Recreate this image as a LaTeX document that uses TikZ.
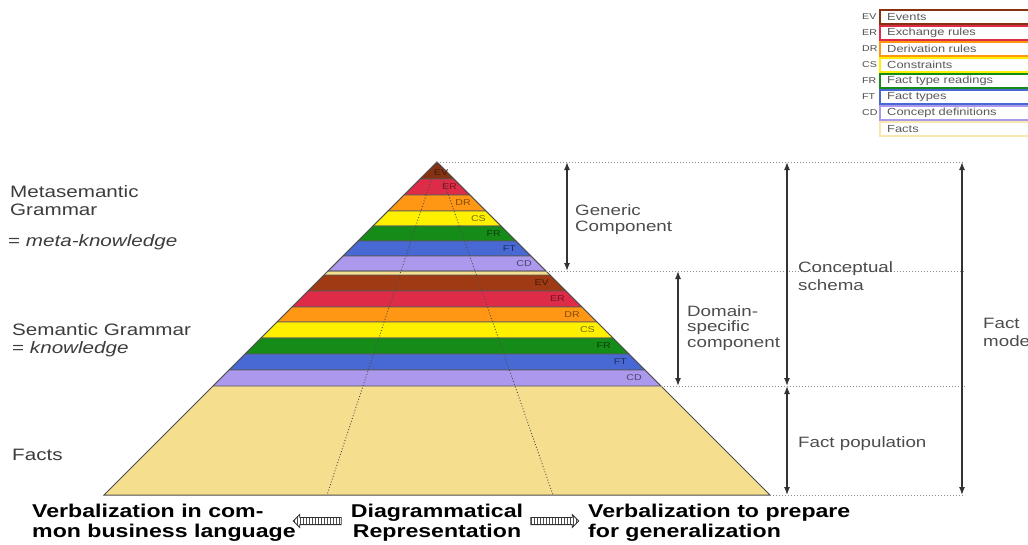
\documentclass[tikz,border=0pt]{standalone}
\usepackage{fontspec}
\setmainfont{Liberation Sans}[FakeStretch=1.25]
\setsansfont{Liberation Sans}[FakeStretch=1.25]
\usepackage{tikz}
\usetikzlibrary{arrows.meta,positioning,shapes.arrows,patterns}

\definecolor{evcol}{RGB}{160,58,20}
\definecolor{ercol}{RGB}{222,44,72}
\definecolor{drcol}{RGB}{255,150,20}
\definecolor{cscol}{RGB}{255,240,0}
\definecolor{frcol}{RGB}{22,140,24}
\definecolor{ftcol}{RGB}{72,104,212}
\definecolor{cdcol}{RGB}{172,152,236}
\definecolor{facol}{RGB}{245,222,142}
\definecolor{inkgray}{RGB}{60,60,60}

\begin{document}
\begin{tikzpicture}[
    x=1pt, y=-1pt,
    >=Latex,
    band/.style={draw=black!65, line width=0.6pt},
    bandlabel/.style={
        font=\fontsize{8.5}{9}\selectfont,
        inner sep=0pt,
        anchor=east
    },
    sidetext/.style={
        font=\fontsize{16.5}{18}\selectfont,
        text=inkgray,
        align=left,
        anchor=base west,
        inner sep=0pt
    },
    dimtext/.style={
        font=\fontsize{15}{15.5}\selectfont,
        text=black!70,
        align=left,
        anchor=base west,
        inner sep=0pt
    },
    bottomtext/.style={
        font=\bfseries\fontsize{18.5}{19.5}\selectfont,
        inner sep=0pt,
        anchor=base west
    },
    legbox/.style={line width=1.8pt, fill=white},
    legtext/.style={
        font=\fontsize{10.3}{11}\selectfont,
        text=black!65,
        anchor=west,
        inner sep=0pt
    },
    legabbr/.style={
        font=\fontsize{8.5}{9}\selectfont,
        text=black!70,
        anchor=west,
        inner sep=0pt
    },
    guide/.style={black!45, dotted, line width=1pt},
    inner/.style={black!70, dotted, line width=0.9pt},
    dimarrow/.style={
        black!80,
        line width=1.3pt,
        {Latex[length=8pt,width=6pt]}-{Latex[length=8pt,width=6pt]}
    },
    flatarrow/.style={
        single arrow,
        draw=black!80,
        line width=0.8pt,
        inner sep=3.2pt,
        single arrow head extend=3pt,
        minimum height=48pt,
        pattern=vertical lines,
        pattern color=black!70
    }
]
\useasboundingbox (0,0) rectangle (1028,544);

% pyramid body
\coordinate (apex) at (437,162);
\coordinate (baseL) at (104,495);
\coordinate (baseR) at (770,495);
\fill[facol] (apex) -- (baseR) -- (baseL) -- cycle;

% generic component bands
\fill[band, fill=evcol!85!black] (apex) -- (454,179) -- (420,179) -- cycle;
\fill[band, fill=ercol] (420,179) -- (454,179) -- (470,195) -- (404,195) -- cycle;
\fill[band, fill=drcol] (404,195) -- (470,195) -- (486,211) -- (388,211) -- cycle;
\fill[band, fill=cscol] (388,211) -- (486,211) -- (501,226) -- (373,226) -- cycle;
\fill[band, fill=frcol] (373,226) -- (501,226) -- (516,241) -- (358,241) -- cycle;
\fill[band, fill=ftcol] (358,241) -- (516,241) -- (531,256) -- (343,256) -- cycle;
\fill[band, fill=cdcol] (343,256) -- (531,256) -- (546,271) -- (328,271) -- cycle;
\draw[band] (apex) -- (454,179) -- (470,195) -- (486,211) -- (501,226) -- (516,241) -- (531,256) -- (546,271) -- (328,271) -- (343,256) -- (358,241) -- (373,226) -- (388,211) -- (404,195) -- (420,179) -- cycle;

% domain-specific bands
\fill[band, fill=evcol] (324,275) -- (550,275) -- (566,291) -- (308,291) -- cycle;
\fill[band, fill=ercol] (308,291) -- (566,291) -- (582,307) -- (292,307) -- cycle;
\fill[band, fill=drcol] (292,307) -- (582,307) -- (597,322) -- (277,322) -- cycle;
\fill[band, fill=cscol] (277,322) -- (597,322) -- (613,338) -- (261,338) -- cycle;
\fill[band, fill=frcol] (261,338) -- (613,338) -- (629,354) -- (245,354) -- cycle;
\fill[band, fill=ftcol] (245,354) -- (629,354) -- (645,370) -- (229,370) -- cycle;
\fill[band, fill=cdcol] (229,370) -- (645,370) -- (661,386) -- (213,386) -- cycle;

% outline of the whole pyramid
\draw[black!70, line width=1pt] (apex) -- (baseR) -- (baseL) -- cycle;

% dotted split lines inside the pyramid
\coordinate (splitL) at (327,495);
\coordinate (splitR) at (553,495);
\draw[inner] (apex) -- (splitL);
\draw[inner] (apex) -- (splitR);

% band labels
\node[bandlabel, anchor=center, text=evcol!45!black] (ev1) at (441,173) {EV};
\node[bandlabel, text=ercol!50!black] (er1) at (457,187) {ER};
\node[bandlabel, text=drcol!50!black] (dr1) at (471,203) {DR};
\node[bandlabel, text=cscol!45!black] (cs1) at (486,218.5) {CS};
\node[bandlabel, text=frcol!45!black] (fr1) at (501,233.5) {FR};
\node[bandlabel, text=ftcol!45!black] (ft1) at (516,248.5) {FT};
\node[bandlabel, text=cdcol!45!black] (cd1) at (532,263.5) {CD};

\node[bandlabel, text=evcol!45!black] (ev2) at (549,283) {EV};
\node[bandlabel, text=ercol!50!black] (er2) at (565,299) {ER};
\node[bandlabel, text=drcol!50!black] (dr2) at (580,314.5) {DR};
\node[bandlabel, text=cscol!45!black] (cs2) at (595,330) {CS};
\node[bandlabel, text=frcol!45!black] (fr2) at (611,346) {FR};
\node[bandlabel, text=ftcol!45!black] (ft2) at (627,362) {FT};
\node[bandlabel, text=cdcol!45!black] (cd2) at (642,378) {CD};

% level guide lines
\coordinate (lvlA) at (965,162);
\coordinate (cutB) at (546,271);
\coordinate (lvlB) at (965,271);
\coordinate (cutC) at (661,386);
\coordinate (lvlC) at (965,386);
\coordinate (lvlD) at (965,495);
\draw[guide] (apex) -- (lvlA);
\draw[guide] (cutB) -- (lvlB);
\draw[guide] (cutC) -- (lvlC);
\draw[guide] (baseR) -- (lvlD);

% dimension arrows
\coordinate (genT) at (567,162);
\coordinate (genB) at (567,271);
\coordinate (domT) at (678,271);
\coordinate (domB) at (678,386);
\coordinate (conT) at (787,162);
\coordinate (conB) at (787,386);
\coordinate (popT) at (787,386);
\coordinate (popB) at (787,495);
\coordinate (modT) at (962,162);
\coordinate (modB) at (962,495);
\draw[dimarrow] (genT) -- (genB);
\draw[dimarrow] (domT) -- (domB);
\draw[dimarrow] (conT) -- (conB);
\draw[dimarrow] (popT) -- (popB);
\draw[dimarrow] (modT) -- (modB);

% texts beside the arrows (base = last line)
\node[dimtext] (generic) at (575,231) {Generic\\Component};
\node[dimtext, font=\fontsize{15}{18}\selectfont] (schema) at (798,290) {Conceptual\\schema};
\node[dimtext] (domain) at (687,347) {Domain-\\specific\\component};
\node[dimtext] (population) at (798,447) {Fact population};
\node[dimtext, font=\fontsize{15}{18}\selectfont] (factmodel) at (983,346) {Fact\\model};

% left side labels
\node[sidetext] (meta) at (10,215) {Metasemantic\\Grammar};
\node[sidetext] (metaknow) at (8,246) {= \textit{meta-knowledge}};
\node[sidetext] (sem) at (12,353) {Semantic Grammar\\= \textit{knowledge}};
\node[sidetext] (facts) at (12,460) {Facts};

% bottom line
\node[bottomtext, align=left] (verbl) at (32,537) {Verbalization in com-\\mon business language};
\node[bottomtext, align=center, anchor=base] (diag) at (437,537) {Diagrammatical\\Representation};
\node[bottomtext, align=left] (verbr) at (588,537) {Verbalization to prepare\\for generalization};
\node[flatarrow, shape border rotate=180] (toleft) at (319,521) {};
\node[flatarrow] (toright) at (553,521) {};

% legend
\draw[legbox, draw=evcol!85!black] (880,10) rectangle (1045,24);
\draw[legbox, draw=ercol] (880,26) rectangle (1045,40);
\draw[legbox, draw=drcol] (880,42) rectangle (1045,56);
\draw[legbox, draw=cscol] (880,58) rectangle (1045,72);
\draw[legbox, draw=frcol] (880,74) rectangle (1045,88);
\draw[legbox, draw=ftcol] (880,90) rectangle (1045,104);
\draw[legbox, draw=cdcol] (880,106) rectangle (1045,120);
\draw[legbox, draw=facol!70] (880,122) rectangle (1045,136);

\node[legabbr] (aEV) at (862,17) {EV};
\node[legabbr] (aER) at (862,33) {ER};
\node[legabbr] (aDR) at (862,49) {DR};
\node[legabbr] (aCS) at (862,65) {CS};
\node[legabbr] (aFR) at (862,81) {FR};
\node[legabbr] (aFT) at (862,97) {FT};
\node[legabbr] (aCD) at (862,113) {CD};

\node[legtext] (tEV) at (887,17) {Events};
\node[legtext] (tER) at (887,33) {Exchange rules};
\node[legtext] (tDR) at (887,49) {Derivation rules};
\node[legtext] (tCS) at (887,65) {Constraints};
\node[legtext] (tFR) at (887,81) {Fact type readings};
\node[legtext] (tFT) at (887,97) {Fact types};
\node[legtext] (tCD) at (887,113) {Concept definitions};
\node[legtext] (tFA) at (887,129) {Facts};

\end{tikzpicture}
\end{document}
